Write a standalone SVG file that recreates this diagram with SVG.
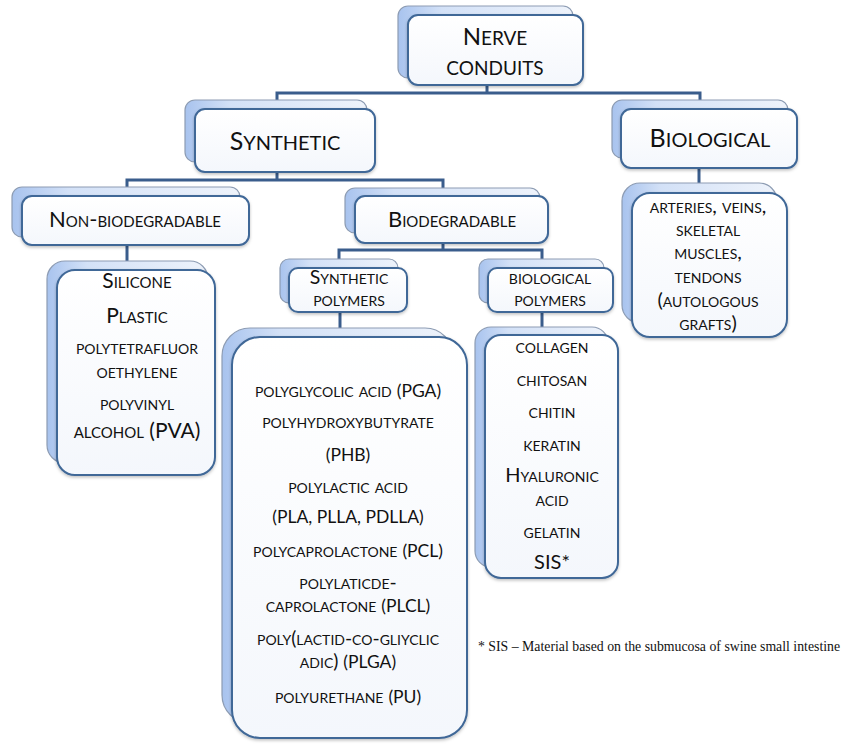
<svg xmlns="http://www.w3.org/2000/svg" width="842" height="749" viewBox="0 0 842 749">
<defs>
<linearGradient id="gBack" x1="0" y1="0" x2="1" y2="0">
<stop offset="0" stop-color="#a8c3ee"/>
<stop offset="0.25" stop-color="#d3e1f7"/>
<stop offset="1" stop-color="#eef3fb"/>
</linearGradient>
<linearGradient id="gFront" x1="0" y1="0" x2="0" y2="1">
<stop offset="0" stop-color="#ffffff"/>
<stop offset="1" stop-color="#f4f7fc"/>
</linearGradient>
<filter id="sh" x="-10%" y="-10%" width="120%" height="130%">
<feDropShadow dx="0" dy="1.5" stdDeviation="1.5" flood-color="#000" flood-opacity="0.25"/>
</filter>
</defs>
<style>
.back{fill:url(#gBack);stroke:#8d9cb3;stroke-width:1.2}
.front{fill:url(#gFront);stroke:#3f6797;stroke-width:2;filter:url(#sh)}
.conn{fill:none;stroke:#3a5d8c;stroke-width:3}
text{font-family:Lato,"Open Sans","Liberation Sans",sans-serif;font-variant:small-caps;fill:#111;text-anchor:middle}
.foot{font-family:"Liberation Serif","Times New Roman",serif;font-variant:normal;text-anchor:start;font-size:13.8px}
</style>
<rect width="842" height="749" fill="#fff"/>
<g id="connectors">
<path class="conn" d="M487 85V93M277 100V93H700V100"/>
<path class="conn" d="M277 172V180M127 187V180H443V188"/>
<path class="conn" d="M127 245V261"/>
<path class="conn" d="M443 243V250M339 259V250H542V259"/>
<path class="conn" d="M340 312V328"/>
<path class="conn" d="M542 312V327"/>
<path class="conn" d="M699 168V183"/>
</g>
<g id="nerve-conduits">
<rect class="back" x="398" y="6" width="175" height="72" rx="10"/>
<rect class="front" x="408" y="15" width="175" height="70" rx="10"/>
<text x="495" y="45" font-size="26.5"><tspan font-size="24">N</tspan>erve</text>
<text x="495" y="75" font-size="26.5">conduits</text>
</g>
<g id="synthetic">
<rect class="back" x="185" y="100" width="182" height="62" rx="10"/>
<rect class="front" x="195" y="109" width="180" height="63" rx="10"/>
<text x="285" y="150" font-size="28"><tspan font-size="25">S</tspan>ynthetic</text>
</g>
<g id="biological">
<rect class="back" x="612" y="100" width="176" height="58" rx="10"/>
<rect class="front" x="621" y="109" width="176" height="59" rx="10"/>
<text x="710" y="147" font-size="28"><tspan font-size="25">B</tspan>iological</text>
</g>
<g id="non-biodegradable">
<rect class="back" x="12" y="187" width="228" height="50" rx="10"/>
<rect class="front" x="22" y="196" width="227" height="49" rx="10"/>
<text x="135" y="227" font-size="22">Non-biodegradable</text>
</g>
<g id="biodegradable">
<rect class="back" x="345" y="188" width="195" height="45" rx="10"/>
<rect class="front" x="355" y="196" width="193" height="47" rx="10"/>
<text x="452" y="227" font-size="22">Biodegradable</text>
</g>
<g id="synthetic-polymers">
<rect class="back" x="280" y="259" width="118" height="44" rx="9"/>
<rect class="front" x="289" y="268" width="118" height="44" rx="9"/>
<text x="349" y="284" font-size="19.5">Synthetic</text>
<text x="349" y="306" font-size="19.5">polymers</text>
</g>
<g id="biological-polymers">
<rect class="back" x="479" y="259" width="125" height="44" rx="9"/>
<rect class="front" x="488" y="268" width="125" height="44" rx="9"/>
<text x="550" y="284" font-size="19.5">biological</text>
<text x="550" y="306" font-size="19.5">polymers</text>
</g>
<g id="non-biodegradable-list">
<rect class="back" x="47" y="261" width="161" height="202" rx="18"/>
<rect class="front" x="57" y="270" width="158" height="205" rx="18"/>
<text x="137" y="288" font-size="21">Silicone</text>
<text x="137" y="323" font-size="21">Plastic</text>
<text x="137" y="354" font-size="20.5">polytetrafluor</text>
<text x="137" y="378" font-size="20.5">oethylene</text>
<text x="137" y="410" font-size="20.5">polyvinyl</text>
<text x="137" y="438" font-size="21">alcohol (PVA)</text>
</g>
<g id="biological-list">
<rect class="back" x="622" y="183" width="155" height="140" rx="18"/>
<rect class="front" x="632" y="193" width="155" height="144" rx="18"/>
<text x="708" y="213" font-size="20">arteries, veins,</text>
<text x="708" y="236" font-size="20">skeletal</text>
<text x="708" y="259" font-size="20">muscles,</text>
<text x="708" y="283" font-size="20">tendons</text>
<text x="708" y="307" font-size="20">(autologous</text>
<text x="708" y="330" font-size="20">grafts)</text>
</g>
<g id="synthetic-polymers-list">
<rect class="back" x="222" y="328" width="231" height="395" rx="28"/>
<rect class="front" x="232" y="337" width="235" height="401" rx="28"/>
<text x="348" y="397" font-size="19.3">polyglycolic acid <tspan font-size="17.5">(PGA)</tspan></text>
<text x="348" y="428" font-size="19.3">polyhydroxybutyrate</text>
<text x="348" y="461" font-size="17.5">(PHB)</text>
<text x="348" y="493" font-size="19.3">polylactic acid</text>
<text x="348" y="523" font-size="17.5">(PLA, PLLA, PDLLA)</text>
<text x="348" y="557" font-size="19.3">polycaprolactone <tspan font-size="17.5">(PCL)</tspan></text>
<text x="348" y="589" font-size="19.3">polylaticde-</text>
<text x="348" y="612" font-size="19.3">caprolactone <tspan font-size="17.5">(PLCL)</tspan></text>
<text x="348" y="645" font-size="19.3">poly(lactid-co-gliyclic</text>
<text x="348" y="668" font-size="19.3">adic) <tspan font-size="17.5">(PLGA)</tspan></text>
<text x="348" y="703" font-size="19.3">polyurethane <tspan font-size="17.5">(PU)</tspan></text>
</g>
<g id="biological-polymers-list">
<rect class="back" x="475" y="327" width="133" height="240" rx="16"/>
<rect class="front" x="485" y="335" width="133" height="243" rx="16"/>
<text x="552" y="353" font-size="20">collagen</text>
<text x="552" y="386" font-size="20">chitosan</text>
<text x="552" y="418" font-size="20">chitin</text>
<text x="552" y="451" font-size="20">keratin</text>
<text x="552" y="482" font-size="20">Hyaluronic</text>
<text x="552" y="506" font-size="20">acid</text>
<text x="552" y="538" font-size="20">gelatin</text>
<text x="552" y="569" font-size="20">SIS*</text>
</g>
<g id="footnote">
<text class="foot" x="478" y="651">* SIS – Material based on the submucosa of swine small intestine</text>
</g>
</svg>
